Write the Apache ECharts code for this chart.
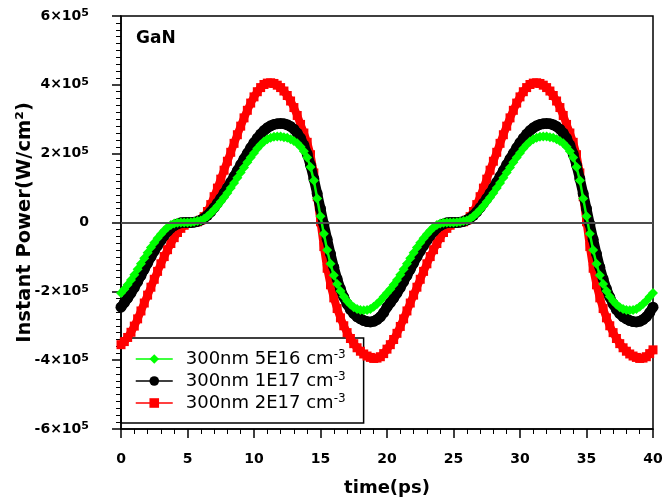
<!DOCTYPE html>
<html>
<head>
<meta charset="utf-8">
<script src="https://cdn.jsdelivr.net/npm/echarts@6/dist/echarts.min.js"></script>
<style>
  html, body { margin: 0; padding: 0; background: #fff; }
  #chart { width: 667px; height: 498px; }
</style>
</head>
<body>
<div id="chart"></div>
<script>
// Instantaneous power density in GaN, sampled every 0.25 ps from 0 to 40 ps.
// Values are in units of 10^5 W/cm^2.
const timeStep = 0.25;   // ps between samples
const timeStart = 0;     // ps

const seriesNames = ['300nm 5E16 cm⁻³', '300nm 1E17 cm⁻³', '300nm 2E17 cm⁻³'];

const power5E16 = [
  -2.05,-1.94,-1.81,-1.67,-1.52,-1.36,-1.20,-1.04,-0.88,-0.73,-0.59,-0.46,-0.34,-0.23,-0.14,-0.07,-0.03,-0.01,0.00,0.00,
  0.00,0.01,0.02,0.04,0.06,0.11,0.18,0.27,0.37,0.48,0.60,0.73,0.86,1.00,1.15,1.30,1.45,1.60,1.75,1.89,
  2.02,2.15,2.26,2.35,2.42,2.46,2.49,2.50,2.50,2.48,2.46,2.42,2.37,2.30,2.20,2.07,1.89,1.61,1.22,0.70,
  0.18,-0.33,-0.80,-1.20,-1.53,-1.79,-1.99,-2.15,-2.28,-2.38,-2.46,-2.51,-2.54,-2.55,-2.54,-2.51,-2.45,-2.37,-2.27,-2.16,
  -2.05,-1.94,-1.81,-1.67,-1.52,-1.36,-1.20,-1.04,-0.88,-0.73,-0.59,-0.46,-0.34,-0.23,-0.14,-0.07,-0.03,-0.01,0.00,0.00,
  0.00,0.01,0.02,0.04,0.06,0.11,0.18,0.27,0.37,0.48,0.60,0.73,0.86,1.00,1.15,1.30,1.45,1.60,1.75,1.89,
  2.02,2.15,2.26,2.35,2.42,2.46,2.49,2.50,2.50,2.48,2.46,2.42,2.37,2.30,2.20,2.07,1.89,1.61,1.22,0.70,
  0.18,-0.33,-0.80,-1.20,-1.53,-1.79,-1.99,-2.15,-2.28,-2.38,-2.46,-2.51,-2.54,-2.55,-2.54,-2.51,-2.45,-2.37,-2.27,-2.16,
  -2.05
];

const power1E17 = [
  -2.46,-2.33,-2.20,-2.05,-1.89,-1.72,-1.54,-1.36,-1.18,-1.00,-0.83,-0.67,-0.52,-0.38,-0.26,-0.16,-0.09,-0.04,-0.01,0.00,
  0.00,0.00,0.01,0.03,0.07,0.13,0.21,0.31,0.43,0.56,0.70,0.85,1.01,1.17,1.34,1.51,1.68,1.85,2.01,2.17,
  2.32,2.45,2.57,2.67,2.75,2.81,2.85,2.87,2.88,2.87,2.84,2.79,2.71,2.60,2.45,2.25,1.99,1.66,1.27,0.84,
  0.40,-0.05,-0.49,-0.91,-1.30,-1.64,-1.93,-2.17,-2.37,-2.53,-2.65,-2.74,-2.80,-2.85,-2.88,-2.89,-2.87,-2.82,-2.74,-2.62,
  -2.46,-2.33,-2.20,-2.05,-1.89,-1.72,-1.54,-1.36,-1.18,-1.00,-0.83,-0.67,-0.52,-0.38,-0.26,-0.16,-0.09,-0.04,-0.01,0.00,
  0.00,0.00,0.01,0.03,0.07,0.13,0.21,0.31,0.43,0.56,0.70,0.85,1.01,1.17,1.34,1.51,1.68,1.85,2.01,2.17,
  2.32,2.45,2.57,2.67,2.75,2.81,2.85,2.87,2.88,2.87,2.84,2.79,2.71,2.60,2.45,2.25,1.99,1.66,1.27,0.84,
  0.40,-0.05,-0.49,-0.91,-1.30,-1.64,-1.93,-2.17,-2.37,-2.53,-2.65,-2.74,-2.80,-2.85,-2.88,-2.89,-2.87,-2.82,-2.74,-2.62,
  -2.46
];

const power2E17 = [
  -3.55,-3.46,-3.34,-3.19,-3.01,-2.80,-2.57,-2.34,-2.11,-1.88,-1.65,-1.42,-1.20,-0.99,-0.79,-0.61,-0.44,-0.29,-0.17,-0.08,
  -0.02,0.00,0.00,0.02,0.07,0.17,0.32,0.52,0.75,1.00,1.26,1.52,1.78,2.04,2.30,2.55,2.80,3.04,3.26,3.47,
  3.65,3.80,3.92,4.01,4.05,4.06,4.04,3.99,3.92,3.82,3.69,3.53,3.34,3.11,2.85,2.60,2.33,1.97,1.44,0.75,
  0.02,-0.70,-1.33,-1.81,-2.19,-2.50,-2.77,-3.00,-3.20,-3.37,-3.52,-3.64,-3.74,-3.82,-3.88,-3.92,-3.95,-3.94,-3.90,-3.81,
  -3.68,-3.55,-3.40,-3.22,-3.02,-2.80,-2.57,-2.34,-2.11,-1.88,-1.65,-1.42,-1.20,-0.99,-0.79,-0.61,-0.44,-0.29,-0.17,-0.08,
  -0.02,0.00,0.00,0.02,0.07,0.17,0.32,0.52,0.75,1.00,1.26,1.52,1.78,2.04,2.30,2.55,2.80,3.04,3.26,3.47,
  3.65,3.80,3.92,4.01,4.05,4.06,4.04,3.99,3.92,3.82,3.69,3.53,3.34,3.11,2.85,2.60,2.33,1.97,1.44,0.75,
  0.02,-0.70,-1.33,-1.81,-2.19,-2.50,-2.77,-3.00,-3.20,-3.37,-3.52,-3.64,-3.74,-3.82,-3.88,-3.92,-3.95,-3.94,-3.90,-3.81,
  -3.70
];

const FONT = 'DejaVu Sans';

function toPairs(values) {
  return values.map((v, i) => [timeStart + i * timeStep, v]);
}

// "6×10⁵" style tick labels with a raised exponent
function powerLabel(v) {
  return v === 0 ? '{a|0}' : '{a|' + v + '×10}{s|5}';
}

// legend text: doping level with a raised "-3" exponent
function legendLabel(name) {
  return '{a|' + name.replace('⁻³', '') + '}{s|-3}';
}

const chart = echarts.init(document.getElementById('chart'), null, { renderer: 'canvas' });

chart.setOption({
  animation: false,
  backgroundColor: '#fff',
  title: {
    text: 'GaN',
    left: 136, top: 30, padding: 0,
    textStyle: { fontFamily: FONT, fontWeight: 'bold', fontSize: 17, color: '#000' }
  },
  grid: {
    left: 121, right: 14, top: 16, bottom: 69,
    containLabel: false,
    outerBoundsMode: 'none',
    show: true, borderColor: '#000', borderWidth: 1.5, backgroundColor: 'transparent'
  },
  legend: {
    orient: 'vertical',
    left: 121, top: 338,
    data: seriesNames,
    formatter: legendLabel,
    itemWidth: 37, itemHeight: 12, itemGap: 2,
    padding: [11, 18, 10, 14],
    borderColor: '#000', borderWidth: 1.5, borderRadius: 0,
    backgroundColor: 'transparent',
    selectedMode: false,
    lineStyle: { width: 1.5 },
    textStyle: {
      fontFamily: FONT, fontSize: 18, color: '#000', lineHeight: 20, padding: [0, 0, 0, 8],
      rich: {
        a: { fontFamily: FONT, fontSize: 18, color: '#000', lineHeight: 20 },
        s: { fontFamily: FONT, fontSize: 12, color: '#000', lineHeight: 10, verticalAlign: 'top' }
      }
    },
    z: 1
  },
  xAxis: {
    type: 'value',
    min: 0, max: 40, interval: 5,
    axisLine: { onZero: false, lineStyle: { color: '#000', width: 1.5 } },
    axisTick: { show: true, inside: false, length: 9, lineStyle: { color: '#000', width: 1.5 } },
    minorTick: { show: true, splitNumber: 5, length: 5, lineStyle: { color: '#000', width: 1 } },
    splitLine: { show: false },
    minorSplitLine: { show: false },
    axisLabel: { fontFamily: FONT, fontWeight: 'bold', fontSize: 14, color: '#000', margin: 23 },
    name: 'time(ps)',
    nameLocation: 'middle', nameGap: 50,
    nameTextStyle: { fontFamily: FONT, fontWeight: 'bold', fontSize: 18, color: '#000' }
  },
  yAxis: {
    type: 'value',
    min: -6, max: 6, interval: 2,
    axisLine: { onZero: false, lineStyle: { color: '#000', width: 1.5 } },
    axisTick: { show: true, inside: false, length: 9, lineStyle: { color: '#000', width: 1.5 } },
    minorTick: { show: true, splitNumber: 10, length: 5, lineStyle: { color: '#000', width: 1 } },
    splitLine: { show: false },
    minorSplitLine: { show: false },
    axisLabel: {
      fontFamily: FONT, fontWeight: 'bold', fontSize: 14,
      color: '#000', margin: 32, formatter: powerLabel,
      rich: {
        a: { fontFamily: FONT, fontWeight: 'bold', fontSize: 14, color: '#000', lineHeight: 16 },
        s: { fontFamily: FONT, fontWeight: 'bold', fontSize: 11, color: '#000', lineHeight: 6, verticalAlign: 'top' }
      }
    },
    name: 'Instant Power(W/cm²)',
    nameLocation: 'middle', nameGap: 86,
    nameMoveOverlap: false,
    nameTextStyle: { fontFamily: FONT, fontWeight: 'bold', fontSize: 19.5, color: '#000' }
  },
  series: [
    {
      name: seriesNames[2],
      type: 'line',
      data: toPairs(power2E17),
      symbol: 'rect', symbolSize: 9,
      lineStyle: { color: '#ff0000', width: 8 },
      itemStyle: { color: '#ff0000' },
      silent: true, z: 2
    },
    {
      name: seriesNames[1],
      type: 'line',
      data: toPairs(power1E17),
      symbol: 'circle', symbolSize: 11,
      lineStyle: { color: '#000', width: 10 },
      itemStyle: { color: '#000' },
      silent: true, z: 3
    },
    {
      name: seriesNames[0],
      type: 'line',
      data: toPairs(power5E16),
      symbol: 'diamond', symbolSize: 10,
      lineStyle: { color: '#00ff00', width: 2.5 },
      itemStyle: { color: '#00ff00' },
      silent: true, z: 4,
      markLine: {
        silent: true,
        symbol: ['none', 'none'],
        label: { show: false },
        lineStyle: { color: '#4d4d4d', width: 2, type: 'solid' },
        data: [{ yAxis: 0 }]
      }
    }
  ]
});
</script>
</body>
</html>
